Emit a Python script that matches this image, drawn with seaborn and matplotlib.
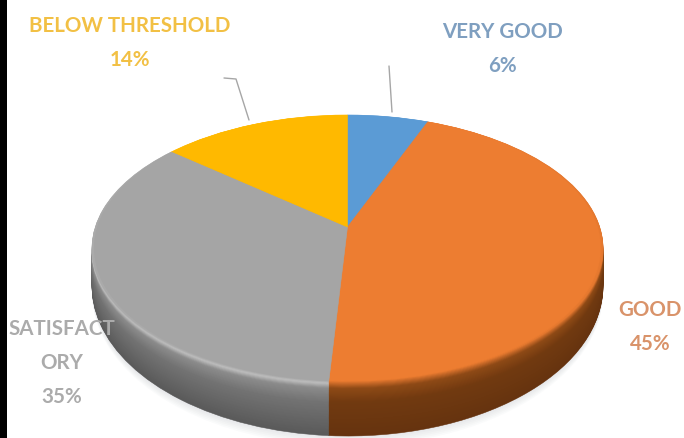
import matplotlib
matplotlib.use("Agg")
import matplotlib.pyplot as plt
import matplotlib.transforms as mtransforms
import numpy as np
import seaborn as sns
from matplotlib.patches import Rectangle

categories = ["VERY GOOD", "GOOD", "SATISFACT\nORY", "BELOW THRESHOLD"]
values = [6, 45, 35, 14]
top_colors = ["#5B9BD5", "#ED7D31", "#A5A5A5", "#FFB900"]
text_colors = ["#7F9FC0", "#D9936A", "#ABABAB", "#F2C044"]
label_xy = [(502, 49), (650, 327), (62, 363), (130, 43)]

# colour of the pie rim, from the bottom edge up to the top face
rim_stops = [0.0, 0.6, 0.86, 0.95, 1.0]
rim_colors = {
    "#5B9BD5": ["#2F5E8A", "#3A6FA0", "#4A85BC", "#7DB0DF", "#5B9BD5"],
    "#ED7D31": ["#66330F", "#713A10", "#8E4A16", "#C96A28", "#ED7D31"],
    "#A5A5A5": ["#5A5A5A", "#737373", "#8C8C8C", "#BEBEBE", "#A5A5A5"],
    "#FFB900": ["#8A6500", "#A07600", "#C79300", "#FFD24D", "#FFB900"],
}


class Perspective(mtransforms.Transform):
    # tilts the flat unit pie into picture pixels
    input_dims = 2
    output_dims = 2

    def __init__(self, y_top, y_bottom, cx=347.5, radius=252.3, tilt=0.158):
        super().__init__()
        self.cx = cx
        self.radius = radius
        self.tilt = tilt
        self.b = (y_top * (1 + tilt) + y_bottom * (1 - tilt)) / 2
        self.a = y_top * (1 + tilt) - self.b

    def transform_non_affine(self, xy):
        xy = np.asarray(xy)
        w = 1 + self.tilt * xy[:, 1]
        return np.column_stack([
            self.cx + self.radius * xy[:, 0] / w,
            (self.a * xy[:, 1] + self.b) / w,
        ])


def rim_shade(hex_color, t):
    rgb = np.array([matplotlib.colors.to_rgb(c) for c in rim_colors[hex_color]])
    return tuple(np.interp(t, rim_stops, rgb[:, i]) for i in range(3))


def draw_layer(ax, colors, y_top, y_bottom, alpha=None, **kwargs):
    wedges, _ = ax.pie(values, colors=colors, startangle=90, counterclock=False)
    persp = Perspective(y_top, y_bottom, **kwargs)
    for wedge in wedges:
        wedge.set_transform(persp + ax.transData)
        wedge.set_clip_on(False)
        if alpha is None:
            wedge.set_edgecolor(wedge.get_facecolor())
            wedge.set_linewidth(0.4)
        else:
            wedge.set_alpha(alpha)
            wedge.set_linewidth(0)


sns.set_theme(style="white")
plt.rcParams["font.family"] = ["Lato", "DejaVu Sans"]

fig = plt.figure(figsize=(6.84, 4.39), dpi=100, facecolor="white")
ax = fig.add_axes([0, 0, 1, 1])

# soft shadow under the pie
for grow in np.linspace(10, 1, 6):
    draw_layer(ax, ["#8A8FA0"] * 4, 140, 437 + grow, alpha=0.035)

# rim, stacked from the lower edge up to the top face
for t in np.linspace(0, 0.99, 60):
    y_top = 137 + (116 - 137) * t
    y_bottom = 437 + (382 - 437) * t
    draw_layer(ax, [rim_shade(c, t) for c in top_colors], y_top, y_bottom)

# top face
draw_layer(ax, top_colors, 116, 382, radius=250)

ax.set_aspect("auto")
ax.set_xlim(0, 684)
ax.set_ylim(439, 0)
ax.axis("off")

# leader lines
ax.plot([224, 236, 249], [79, 80, 121], color="#A6A6A6", lw=1)
ax.plot([389, 392], [67, 113], color="#A6A6A6", lw=1)

for name, value, color, (x, y) in zip(categories, values, text_colors, label_xy):
    ax.text(x, y, f"{name}\n{value}%", color=color, ha="center", va="center",
            fontsize=14.8, fontweight="bold", linespacing=1.85, zorder=10)

# black strip down the left edge of the screenshot
fig.add_artist(Rectangle((0, 0), 7 / 684, 1, transform=fig.transFigure,
                         facecolor="black", edgecolor="none"))

fig.savefig("out.png", dpi=100)
plt.close(fig)
